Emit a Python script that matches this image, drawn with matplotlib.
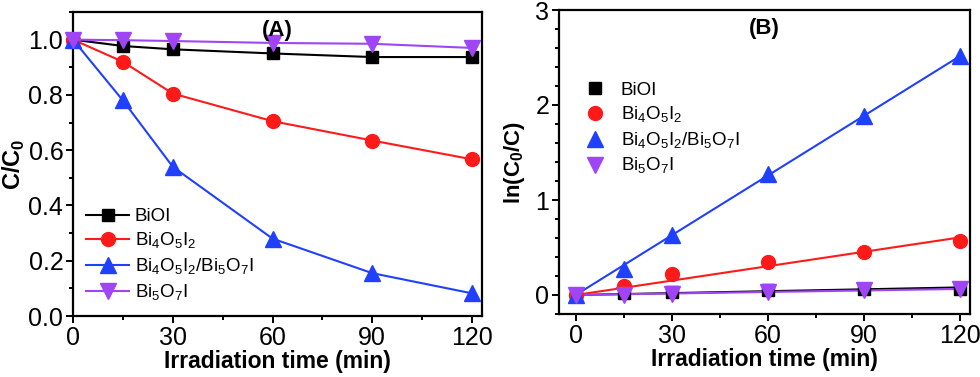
import numpy as np
import matplotlib
matplotlib.use("Agg")
import matplotlib.pyplot as plt
from matplotlib.ticker import MultipleLocator, FormatStrFormatter

plt.rcParams['font.family'] = ['Liberation Sans', 'DejaVu Sans']
plt.rcParams['mathtext.fontset'] = 'custom'
plt.rcParams['mathtext.rm'] = 'Liberation Sans'
plt.rcParams['mathtext.bf'] = 'Liberation Sans:bold'

# irradiation time (min)
time = [0, 15, 30, 60, 90, 120]

# (A) C/C0
c_bioi = [1.0, 0.977, 0.965, 0.950, 0.937, 0.937]
c_bi4o5i2 = [1.0, 0.920, 0.805, 0.705, 0.635, 0.567]
c_comp = [1.0, 0.780, 0.540, 0.280, 0.155, 0.082]
c_bi5o7i = [1.0, 0.998, 0.995, 0.988, 0.985, 0.970]

# (B) ln(C0/C)
k_bioi = [0.0, 0.023, 0.036, 0.051, 0.065, 0.065]
k_bi4o5i2 = [0.0, 0.094, 0.217, 0.346, 0.455, 0.567]
k_comp = [0.0, 0.270, 0.633, 1.273, 1.889, 2.515]
k_bi5o7i = [0.0, 0.002, 0.008, 0.030, 0.055, 0.062]

labels = ['BiOI', r'Bi$_4$O$_5$I$_2$', r'Bi$_4$O$_5$I$_2$/Bi$_5$O$_7$I', r'Bi$_5$O$_7$I']
colors = ['#000000', '#FF1A1A', '#2040FF', '#A045F5']
markers = ['s', 'o', '^', 'v']
msizes = [9, 10, 11, 11]

fig = plt.figure(figsize=(9.8, 3.77), dpi=100)
axA = fig.add_axes([73 / 980, 1 - 316 / 377, (482 - 73) / 980, (316 - 12) / 377])
axB = fig.add_axes([559 / 980, 1 - 314 / 377, (970 - 559) / 980, (314 - 10) / 377])

# panel A
for y, lab, c, m, ms in zip([c_bioi, c_bi4o5i2, c_comp, c_bi5o7i], labels, colors, markers, msizes):
    axA.plot(time, y, color=c, marker=m, markersize=ms, lw=1.5, label=lab, clip_on=False, zorder=3)

axA.set_xlim(0, 123)
axA.set_ylim(0, 1.1)
axA.xaxis.set_major_locator(MultipleLocator(30))
axA.xaxis.set_minor_locator(MultipleLocator(15))
axA.yaxis.set_major_locator(MultipleLocator(0.2))
axA.yaxis.set_minor_locator(MultipleLocator(0.1))
axA.yaxis.set_major_formatter(FormatStrFormatter('%.1f'))
axA.set_xlabel('Irradiation time (min)', fontsize=16.5, fontweight='bold', labelpad=0)
axA.set_ylabel(r'C/C$_\mathbf{0}$', fontsize=17, fontweight='bold', labelpad=1)
axA.text(0.5, 0.975, '(A)', transform=axA.transAxes, ha='center', va='top',
         fontsize=16, fontweight='bold')
axA.legend(loc='lower left', bbox_to_anchor=(0.0, 0.0), frameon=False, fontsize=13.5,
           handlelength=2.3, handletextpad=0.3, labelspacing=0.3, borderaxespad=0.3)

# panel B: points plus linear fits through origin
tt = np.array(time, dtype=float)
for y, lab, c, m, ms in zip([k_bioi, k_bi4o5i2, k_comp, k_bi5o7i], labels, colors, markers, msizes):
    y = np.array(y)
    k = np.sum(tt * y) / np.sum(tt * tt)
    axB.plot([tt[0], tt[-1]], [0, k * tt[-1]], color=c, lw=1.5, zorder=2)
    axB.plot(tt, y, ls='none', color=c, marker=m, markersize=ms, label=lab, zorder=3)

axB.set_xlim(-5.2, 123)
axB.set_ylim(-0.2, 3)
axB.xaxis.set_major_locator(MultipleLocator(30))
axB.xaxis.set_minor_locator(MultipleLocator(15))
axB.yaxis.set_major_locator(MultipleLocator(1))
axB.yaxis.set_minor_locator(MultipleLocator(0.2))
axB.set_xlabel('Irradiation time (min)', fontsize=16.5, fontweight='bold', labelpad=0)
axB.set_ylabel(r'ln(C$_\mathbf{0}$/C)', fontsize=16, fontweight='bold', labelpad=6)
axB.text(0.5, 0.975, '(B)', transform=axB.transAxes, ha='center', va='top',
         fontsize=16, fontweight='bold')
axB.legend(loc='upper left', bbox_to_anchor=(0.0, 0.82), frameon=False, fontsize=13.5,
           handlelength=2.0, handletextpad=0.4, labelspacing=0.3)

for ax in (axA, axB):
    for s in ax.spines.values():
        s.set_linewidth(1.6)
    ax.tick_params(which='both', direction='out', top=False, right=False, labelsize=18,
                   width=1.4, pad=2)
    ax.tick_params(which='major', length=5)
    ax.tick_params(which='minor', length=3)

fig.savefig('out.png', dpi=100)
